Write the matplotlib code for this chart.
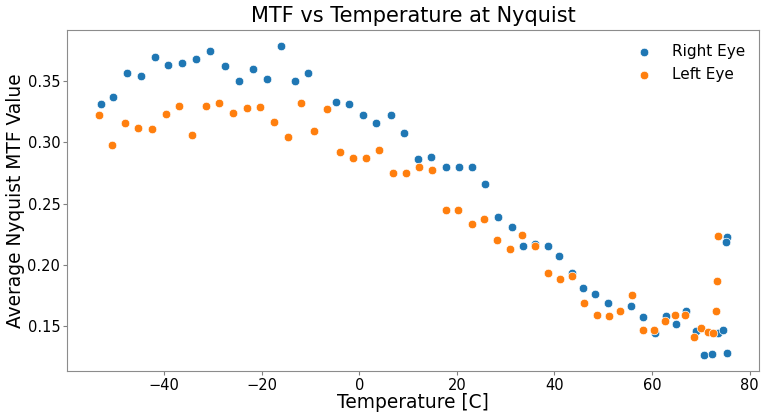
import matplotlib
matplotlib.use('Agg')
import matplotlib.pyplot as plt

# temperature [C] and average MTF at Nyquist
right_temp = [-53.0, -50.4, -47.5, -44.8, -41.9, -39.2, -36.4, -33.5, -30.5, -27.5,
              -24.7, -21.8, -18.9, -16.1, -13.2, -10.5, -4.8, -2.1, 0.8, 3.5,
              6.5, 9.2, 12.1, 14.7, 17.7, 20.5, 23.2, 25.8, 28.5, 31.2,
              33.6, 36.1, 38.6, 41.0, 43.6, 45.8, 48.4, 50.9, 55.7, 58.2,
              60.6, 62.8, 65.0, 67.0, 68.9, 70.6, 72.3, 73.6, 74.6, 75.4,
              75.4, 75.2]
right_mtf = [0.331, 0.337, 0.357, 0.354, 0.370, 0.363, 0.365, 0.368, 0.375, 0.362,
             0.350, 0.360, 0.352, 0.379, 0.350, 0.357, 0.333, 0.331, 0.322, 0.316,
             0.322, 0.308, 0.286, 0.288, 0.280, 0.280, 0.280, 0.266, 0.239, 0.231,
             0.215, 0.217, 0.215, 0.207, 0.193, 0.181, 0.176, 0.169, 0.166, 0.157,
             0.144, 0.158, 0.152, 0.162, 0.146, 0.126, 0.127, 0.144, 0.147, 0.128,
             0.223, 0.219]

left_temp = [-53.4, -50.7, -48.0, -45.3, -42.4, -39.7, -37.0, -34.2, -31.5, -28.8,
             -25.9, -23.1, -20.4, -17.5, -14.7, -12.0, -9.3, -6.6, -4.0, -1.3,
             1.4, 4.1, 6.9, 9.6, 12.3, 15.0, 17.8, 20.3, 23.0, 25.6,
             28.2, 30.8, 33.4, 36.0, 38.6, 41.1, 43.6, 46.0, 48.7, 51.2,
             53.5, 55.8, 58.2, 60.4, 62.6, 64.7, 66.7, 68.5, 70.0, 71.5,
             72.5, 73.2, 73.4, 73.5]
left_mtf = [0.322, 0.298, 0.316, 0.312, 0.311, 0.323, 0.330, 0.306, 0.330, 0.332,
            0.324, 0.328, 0.329, 0.317, 0.304, 0.332, 0.309, 0.327, 0.292, 0.287,
            0.287, 0.294, 0.275, 0.275, 0.280, 0.2775, 0.2446, 0.2446, 0.2334, 0.2378,
            0.220, 0.2125, 0.2242, 0.2157, 0.1937, 0.1880, 0.1910, 0.1688, 0.1586, 0.1578,
            0.1625, 0.1750, 0.1467, 0.1470, 0.1537, 0.1586, 0.1586, 0.1410, 0.1486, 0.1453,
            0.1443, 0.1619, 0.1864, 0.2237]

fig, ax = plt.subplots(figsize=(7.64, 4.13), dpi=100)
fig.subplots_adjust(left=0.088, right=0.993, bottom=0.102, top=0.927)

ax.scatter(right_temp, right_mtf, s=38, color='#1f77b4', edgecolor='white',
           linewidth=0.5, label='Right Eye')
ax.scatter(left_temp, left_mtf, s=38, color='#ff7f0e', edgecolor='white',
           linewidth=0.5, label='Left Eye')

ax.set_title('MTF vs Temperature at Nyquist', fontsize=15)
ax.set_xlabel('Temperature [C]', fontsize=13.4, labelpad=0)
ax.set_ylabel('Average Nyquist MTF Value', fontsize=13.4, labelpad=2)
ax.set_yticks([0.15, 0.20, 0.25, 0.30, 0.35])
ax.tick_params(labelsize=10.5, color='0.5', length=3, pad=2)
for sp in ax.spines.values():
    sp.set_color('0.55')

ax.legend(frameon=False, loc='upper right', fontsize=11, handletextpad=0.8)

plt.savefig('out.png', dpi=100)
